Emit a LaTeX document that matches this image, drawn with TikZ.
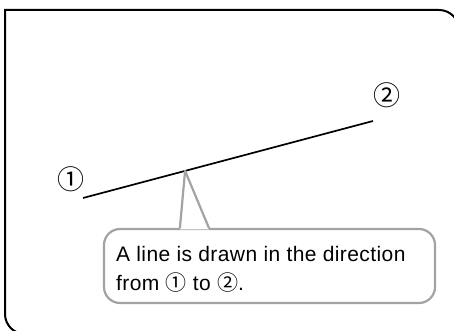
\documentclass[tikz,border=0pt]{standalone}
\usepackage{fontspec}
\setmainfont{Liberation Sans}
\newfontfamily\circfont{Noto Sans CJK JP}
\usepackage{xcolor}
\usetikzlibrary{calc}
\definecolor{notegray}{HTML}{A3A3A3}

\begin{document}
\begin{tikzpicture}[
  x=1pt, y=1pt,
  frame/.style={draw=black, line width=2pt},
  seg/.style={draw=black, line width=1.7pt},
  numlabel/.style={font=\circfont\fontsize{27}{27}\selectfont, inner sep=0pt},
  notebox/.style={rectangle, draw=notegray, fill=white, line width=2.2pt,
                  rounded corners=16pt, minimum width=331pt, minimum height=74pt},
  notetext/.style={align=left, font=\addfontfeature{LetterSpace=2}\fontsize{21}{29}\selectfont,
                   inner sep=0pt, anchor=west},
  pointer/.style={draw=notegray, line width=2.2pt, line join=round, line cap=round},
]
\useasboundingbox (0,0) rectangle (454,331);

%% Outer frame: square top-left corner, rounded top-right and bottom-left
\begin{scope}
  \clip (0,0) rectangle (454,331);
  \draw[frame] (459,-3) -- (459,301) arc[start angle=0, end angle=90, radius=20]
    -- (5,321) -- (5,17) arc[start angle=180, end angle=270, radius=20] -- cycle;
\end{scope}

%% The line from point 1 to point 2
\coordinate (p1) at (83,133);
\coordinate (p2) at (373,210);
\node[numlabel] (n1) at (71,152) {①};
\node[numlabel] (n2) at (387,236) {②};
\draw[seg] (p1) -- (p2);

%% Callout box with its pointer to the line
\node[notebox] (note) at (269.5,65) {};
\coordinate (tip) at ($(p1)!0.352!(p2)$);
\coordinate (baseL) at ($(note.north west)+(77,0)$);
\coordinate (baseR) at ($(note.north west)+(106,0)$);
\fill[white] ($(baseL)+(0,-1.4)$) -- (tip) -- ($(baseR)+(0,-1.4)$) -- cycle;
\draw[pointer] (baseL) -- (tip) -- (baseR);

\node[notetext] (notetxt) at ($(note.west)+(13,-3.4)$)
  {A line is drawn in the direction\\from {\circfont ①} to {\circfont ②}.};

\end{tikzpicture}
\end{document}
